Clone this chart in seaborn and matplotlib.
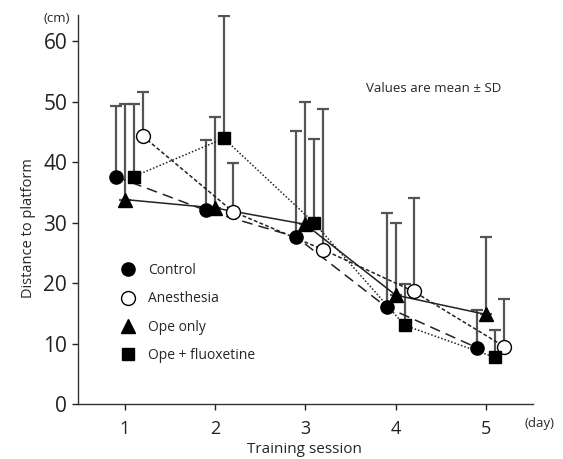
import numpy as np
import pandas as pd
import matplotlib
matplotlib.use("Agg")
import matplotlib.pyplot as plt
from matplotlib.lines import Line2D
import seaborn as sns

sessions = [1, 2, 3, 4, 5]
groups = ["Control", "Anesthesia", "Ope only", "Ope + fluoxetine"]
control_mean = [37.6, 32.0, 27.6, 16.0, 9.3]
control_sd = [11.6, 11.6, 17.5, 15.6, 6.2]
anesthesia_mean = [44.3, 31.8, 25.5, 18.6, 9.5]
anesthesia_sd = [7.2, 8.1, 23.2, 15.5, 7.8]
opeonly_mean = [33.8, 32.4, 29.7, 18.0, 14.8]
opeonly_sd = [15.8, 15.0, 20.2, 11.9, 12.8]
fluox_mean = [37.6, 43.9, 29.9, 13.0, 7.7]
fluox_sd = [12.0, 20.2, 13.9, 6.9, 4.5]

means = [control_mean, anesthesia_mean, opeonly_mean, fluox_mean]
sds = [control_sd, anesthesia_sd, opeonly_sd, fluox_sd]
offsets = [-0.1, 0.2, 0.0, 0.1]
markers = ["o", "o", "^", "s"]
facecolors = ["black", "white", "black", "black"]
msizes = [9.5, 10, 9.5, 9]
dashes = [(7, 4), (2.5, 1.5), (), (1, 1.3)]

sns.set_style("ticks")
plt.rcParams["font.family"] = ["Open Sans", "DejaVu Sans"]

fig = plt.figure(figsize=(5.63, 4.59), dpi=100)
ax = fig.add_axes([78 / 563, 55 / 459, 455 / 563, 389 / 459])

line_color = "#222222"
err_color = "#555555"

for g, m, s, off, mk, fc, ms, ds in zip(groups, means, sds, offsets, markers,
                                        facecolors, msizes, dashes):
    x = np.array(sessions) + off
    df = pd.DataFrame({"x": x, "y": m})
    ax.errorbar(x, m, yerr=[np.zeros(len(s)), s], fmt="none",
                ecolor=err_color, elinewidth=1.6, capsize=4.5,
                capthick=1.6, zorder=2)
    sns.lineplot(data=df, x="x", y="y", ax=ax, color=line_color,
                 linewidth=1.1, zorder=3, legend=False)
    ln = ax.lines[-1]
    if ds:
        ln.set_dashes(ds)
    ax.plot(x, m, linestyle="none", marker=mk, markersize=ms,
            markerfacecolor=fc, markeredgecolor="black",
            markeredgewidth=1.0, zorder=4)

ax.set_xlim(0.485, 5.52)
ax.set_ylim(0, 64.3)
ax.set_xticks(sessions)
ax.set_yticks(range(0, 61, 10))
ax.tick_params(axis="y", labelsize=15, length=4.3, width=1, colors="#222222")
ax.tick_params(axis="x", labelsize=13, length=4.3, width=1, pad=7,
               colors="#222222")
for sp in ["top", "right"]:
    ax.spines[sp].set_visible(False)
for sp in ["left", "bottom"]:
    ax.spines[sp].set_linewidth(1.0)
    ax.spines[sp].set_color("#333333")

ax.set_xlabel("Training session", fontsize=11)
ax.set_ylabel("Distance to platform", fontsize=10.5)
ax.xaxis.set_label_coords(0.498, -0.098)
ax.yaxis.set_label_coords(-0.092, 0.452)
ax.text(-0.018, 0.992, "(cm)", transform=ax.transAxes, ha="right",
        va="center", fontsize=9.5)
ax.text(0.982, -0.05, "(day)", transform=ax.transAxes, ha="left",
        va="center", fontsize=9.5)
ax.text(3.67, 52.2, "Values are mean ± SD", fontsize=9.5, ha="left",
        va="center")

handles = [Line2D([], [], linestyle="none", marker=mk, markersize=ms,
                  markerfacecolor=fc, markeredgecolor="black",
                  markeredgewidth=1.0)
           for mk, fc, ms in zip(markers, facecolors, msizes)]
ax.legend(handles, groups, loc="upper left", bbox_to_anchor=(0.092, 0.362),
          frameon=False, fontsize=10, handlelength=1.2, handletextpad=0.8,
          labelspacing=0.95, borderpad=0, borderaxespad=0)

fig.savefig("out.png", dpi=100)
